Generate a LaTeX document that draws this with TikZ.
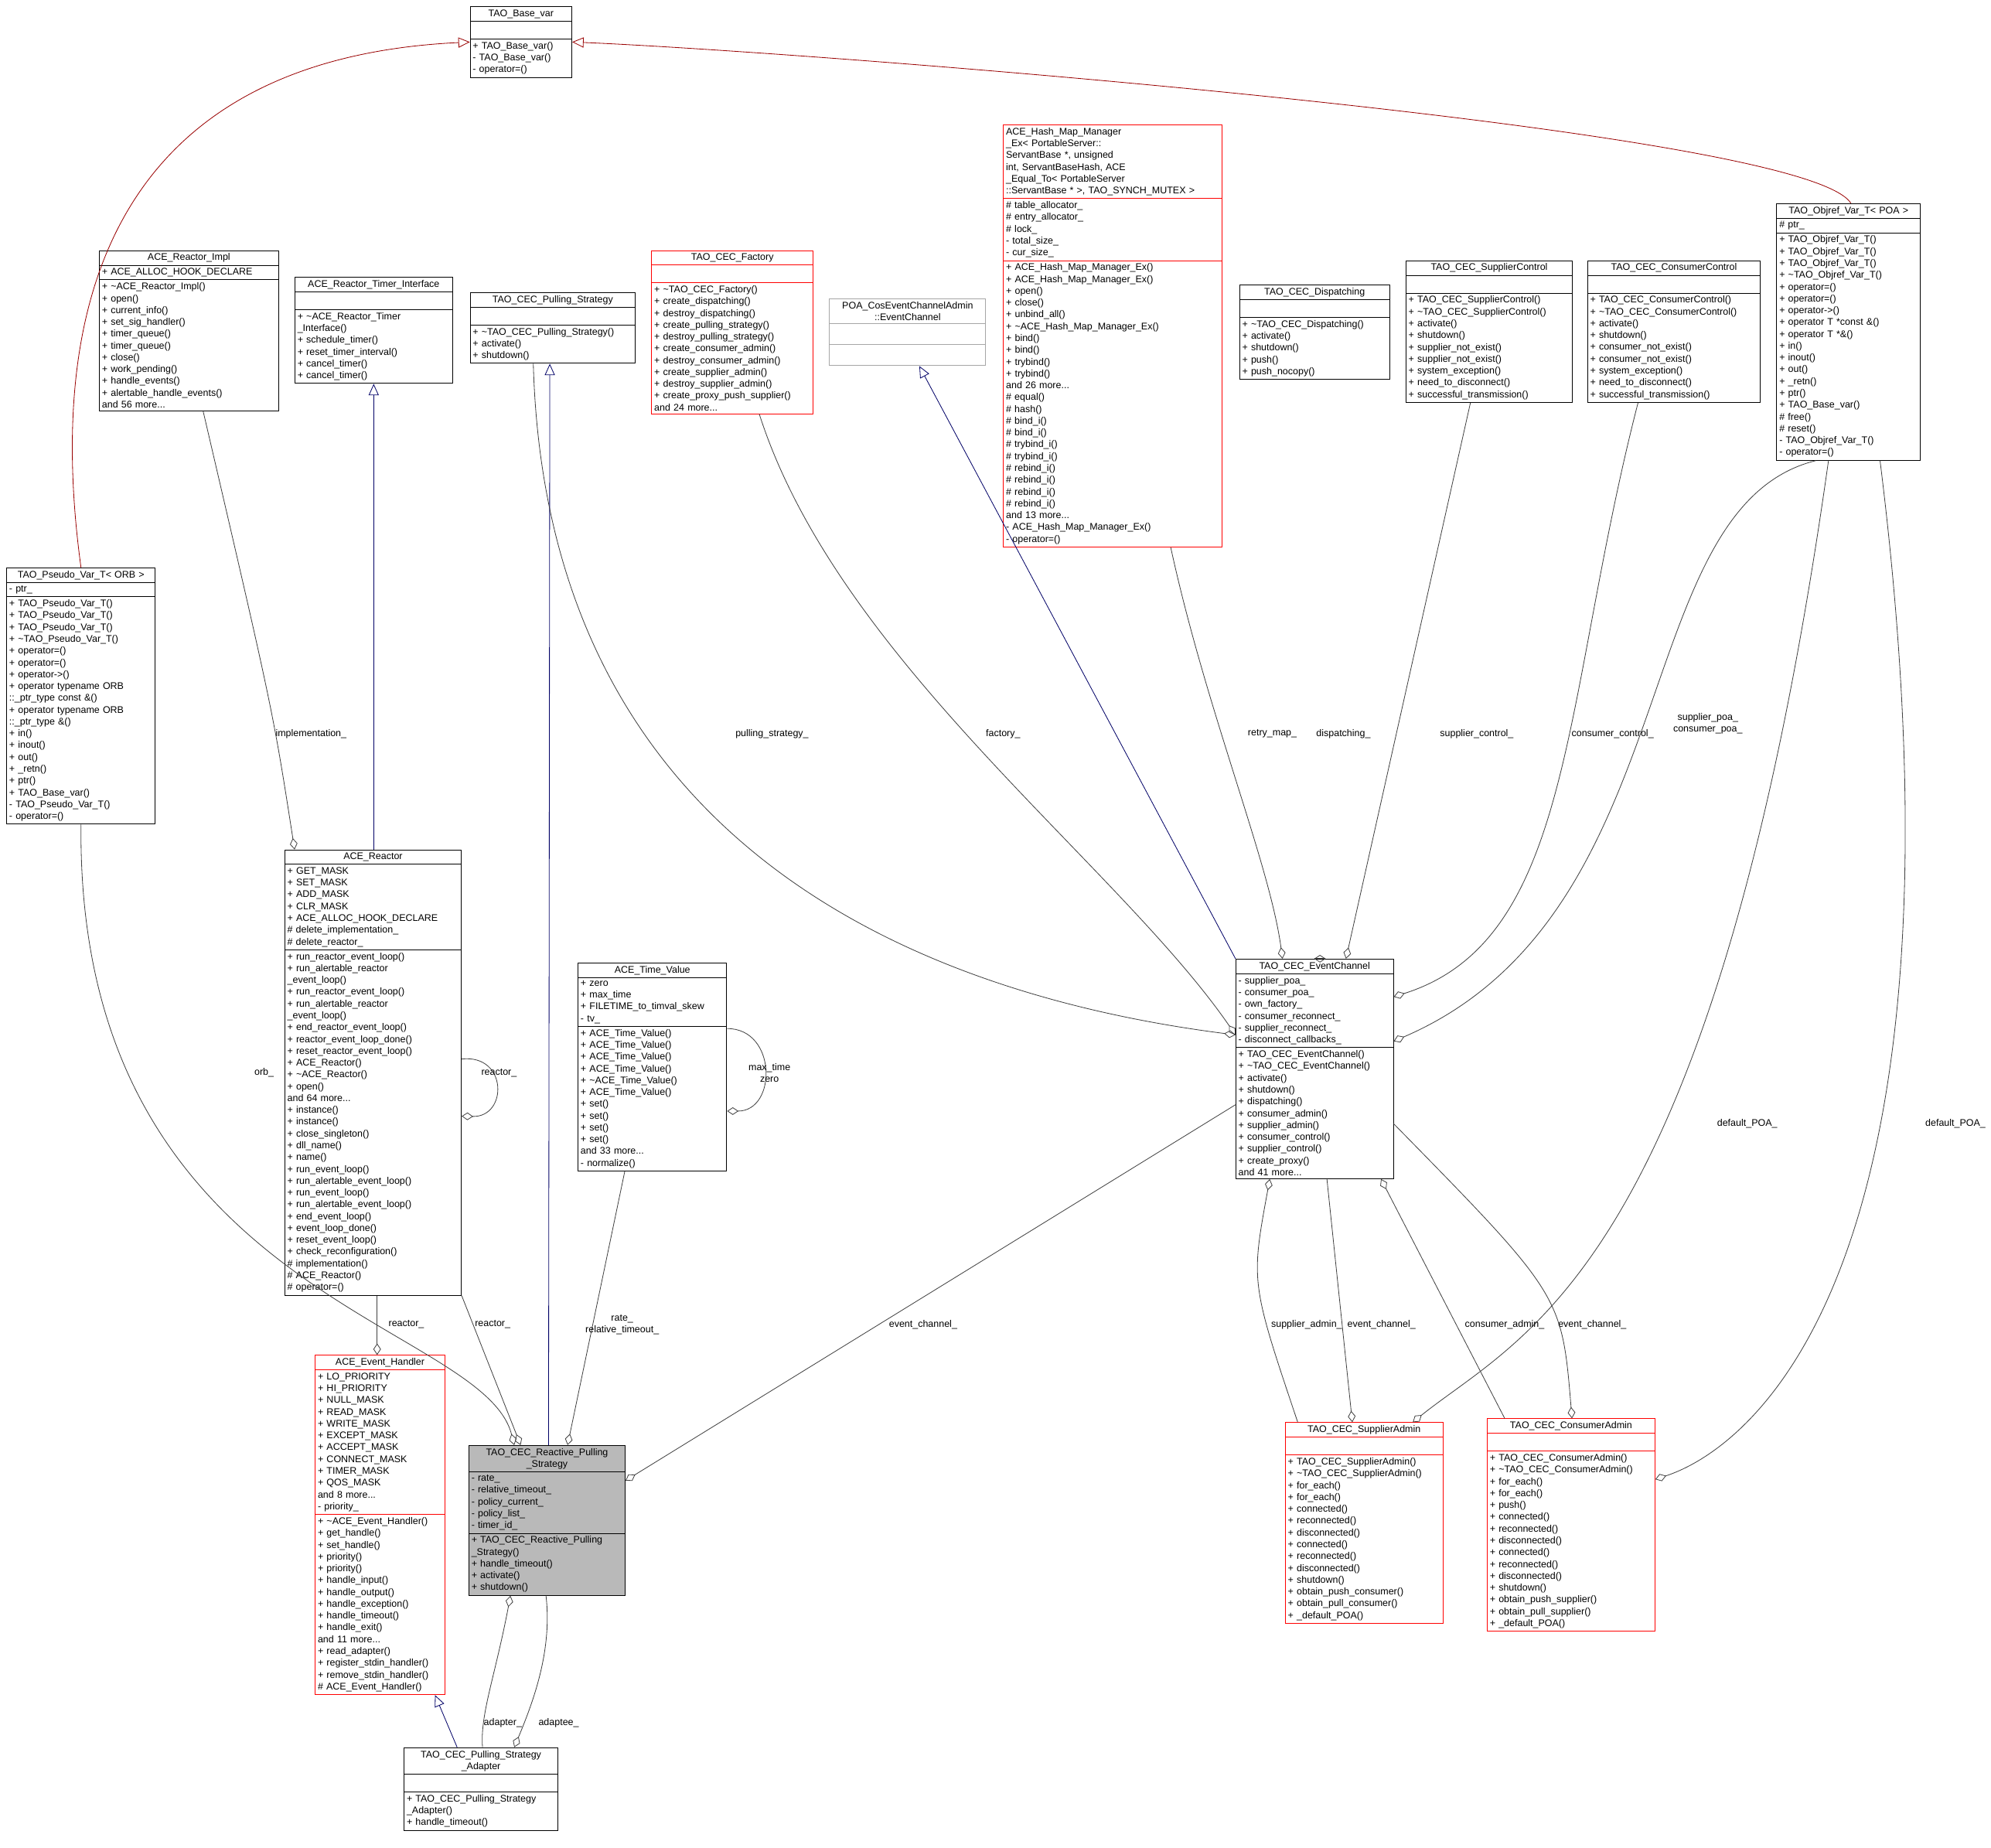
\documentclass[tikz,border=0pt]{standalone}
\usepackage{fontspec}
\setmainfont{Liberation Sans}
\usetikzlibrary{shapes.multipart, arrows.meta, positioning, calc}
\newcommand{\tl}{\textasciitilde}
\newcommand{\ttl}[1]{{\centering #1\par}}
\begin{document}
\catcode`\_=12
\begin{tikzpicture}[
  x=1pt, y=-1pt,
  font=\fontsize{7.6}{9.3}\selectfont,
  classbox/.style={rectangle split, rectangle split parts=3, draw=black, fill=white,
    anchor=north west, align=left, inner xsep=2pt, inner ysep=2pt, line width=0.6pt},
  redbox/.style={classbox, draw=red},
  greybox/.style={classbox, draw=gray!70},
  agg/.style={draw=black!75, line width=0.5pt, {Diamond[open,length=9pt,width=6pt]}-},
  inh/.style={draw=blue!40!black, line width=0.5pt, -{Triangle[open,length=9pt,width=8pt]}},
  inhred/.style={draw=red!60!black, line width=0.5pt, -{Triangle[open,length=9pt,width=8pt]}},
  lbl/.style={font=\fontsize{7.6}{9}\selectfont, align=center, inner sep=1pt}
]
\useasboundingbox (0,0) rectangle (1568,1455);

% Classes
\node[classbox, text width=76pt] (basevar) at (370,5) {\ttl{TAO_Base_var}
  \nodepart{two}\strut
  \nodepart{three}+ TAO_Base_var()\\- TAO_Base_var()\\- operator=()};

\node[classbox, text width=137pt] (reactorimpl) at (78,197) {\ttl{ACE_Reactor_Impl}
  \nodepart{two}+ ACE_ALLOC_HOOK_DECLARE
  \nodepart{three}+ \tl ACE_Reactor_Impl()\\+ open()\\+ current_info()\\+ set_sig_handler()\\+ timer_queue()\\+ timer_queue()\\+ close()\\+ work_pending()\\+ handle_events()\\+ alertable_handle_events()\\and 56 more...};

\node[classbox, text width=120pt] (timerif) at (232,218) {\ttl{ACE_Reactor_Timer_Interface}
  \nodepart{two}\strut
  \nodepart{three}+ \tl ACE_Reactor_Timer\\\_Interface()\\+ schedule_timer()\\+ reset_timer_interval()\\+ cancel_timer()\\+ cancel_timer()};

\node[classbox, text width=126pt] (pullstrat) at (370,230) {\ttl{TAO_CEC_Pulling_Strategy}
  \nodepart{two}\strut
  \nodepart{three}+ \tl TAO_CEC_Pulling_Strategy()\\+ activate()\\+ shutdown()};

\node[redbox, text width=123pt] (factory) at (513,197) {\ttl{TAO_CEC_Factory}
  \nodepart{two}\strut
  \nodepart{three}+ \tl TAO_CEC_Factory()\\+ create_dispatching()\\+ destroy_dispatching()\\+ create_pulling_strategy()\\+ destroy_pulling_strategy()\\+ create_consumer_admin()\\+ destroy_consumer_admin()\\+ create_supplier_admin()\\+ destroy_supplier_admin()\\+ create_proxy_push_supplier()\\and 24 more...};

\node[greybox, text width=119pt] (poaec) at (653,235) {\ttl{POA_CosEventChannelAdmin\\::EventChannel}
  \nodepart{two}\rule{0pt}{12pt}
  \nodepart{three}\rule{0pt}{12pt}};

\node[redbox, text width=168pt] (hashmap) at (790,98) {ACE_Hash_Map_Manager\\\_Ex< PortableServer::\\ServantBase *, unsigned\\ int, ServantBaseHash, ACE\\\_Equal_To< PortableServer\\::ServantBase * >, TAO_SYNCH_MUTEX >
  \nodepart{two}\# table_allocator_\\\# entry_allocator_\\\# lock_\\- total_size_\\- cur_size_
  \nodepart{three}+ ACE_Hash_Map_Manager_Ex()\\+ ACE_Hash_Map_Manager_Ex()\\+ open()\\+ close()\\+ unbind_all()\\+ \tl ACE_Hash_Map_Manager_Ex()\\+ bind()\\+ bind()\\+ trybind()\\+ trybind()\\and 26 more...\\\# equal()\\\# hash()\\\# bind_i()\\\# bind_i()\\\# trybind_i()\\\# trybind_i()\\\# rebind_i()\\\# rebind_i()\\\# rebind_i()\\\# rebind_i()\\and 13 more...\\- ACE_Hash_Map_Manager_Ex()\\- operator=()};

\node[classbox, text width=114pt] (dispatching) at (976,224) {\ttl{TAO_CEC_Dispatching}
  \nodepart{two}\strut
  \nodepart{three}+ \tl TAO_CEC_Dispatching()\\+ activate()\\+ shutdown()\\+ push()\\+ push_nocopy()};

\node[classbox, text width=127pt] (supctrl) at (1107,205) {\ttl{TAO_CEC_SupplierControl}
  \nodepart{two}\strut
  \nodepart{three}+ TAO_CEC_SupplierControl()\\+ \tl TAO_CEC_SupplierControl()\\+ activate()\\+ shutdown()\\+ supplier_not_exist()\\+ supplier_not_exist()\\+ system_exception()\\+ need_to_disconnect()\\+ successful_transmission()};

\node[classbox, text width=132pt] (conctrl) at (1250,205) {\ttl{TAO_CEC_ConsumerControl}
  \nodepart{two}\strut
  \nodepart{three}+ TAO_CEC_ConsumerControl()\\+ \tl TAO_CEC_ConsumerControl()\\+ activate()\\+ shutdown()\\+ consumer_not_exist()\\+ consumer_not_exist()\\+ system_exception()\\+ need_to_disconnect()\\+ successful_transmission()};

\node[classbox, text width=109pt] (objref) at (1399,160) {\ttl{TAO_Objref_Var_T< POA >}
  \nodepart{two}\# ptr_
  \nodepart{three}+ TAO_Objref_Var_T()\\+ TAO_Objref_Var_T()\\+ TAO_Objref_Var_T()\\+ \tl TAO_Objref_Var_T()\\+ operator=()\\+ operator=()\\+ operator->()\\+ operator T *const \&()\\+ operator T *\&()\\+ in()\\+ inout()\\+ out()\\+ _retn()\\+ ptr()\\+ TAO_Base_var()\\\# free()\\\# reset()\\- TAO_Objref_Var_T()\\- operator=()};

\node[classbox, text width=113pt] (pseudo) at (5,447) {\ttl{TAO_Pseudo_Var_T< ORB >}
  \nodepart{two}- ptr_
  \nodepart{three}+ TAO_Pseudo_Var_T()\\+ TAO_Pseudo_Var_T()\\+ TAO_Pseudo_Var_T()\\+ \tl TAO_Pseudo_Var_T()\\+ operator=()\\+ operator=()\\+ operator->()\\+ operator typename ORB\\::_ptr_type const \&()\\+ operator typename ORB\\::_ptr_type \&()\\+ in()\\+ inout()\\+ out()\\+ _retn()\\+ ptr()\\+ TAO_Base_var()\\- TAO_Pseudo_Var_T()\\- operator=()};

\node[classbox, text width=135pt] (reactor) at (224,669) {\ttl{ACE_Reactor}
  \nodepart{two}+ GET_MASK\\+ SET_MASK\\+ ADD_MASK\\+ CLR_MASK\\+ ACE_ALLOC_HOOK_DECLARE\\\# delete_implementation_\\\# delete_reactor_
  \nodepart{three}+ run_reactor_event_loop()\\+ run_alertable_reactor\\\_event_loop()\\+ run_reactor_event_loop()\\+ run_alertable_reactor\\\_event_loop()\\+ end_reactor_event_loop()\\+ reactor_event_loop_done()\\+ reset_reactor_event_loop()\\+ ACE_Reactor()\\+ \tl ACE_Reactor()\\+ open()\\and 64 more...\\+ instance()\\+ instance()\\+ close_singleton()\\+ dll_name()\\+ name()\\+ run_event_loop()\\+ run_alertable_event_loop()\\+ run_event_loop()\\+ run_alertable_event_loop()\\+ end_event_loop()\\+ event_loop_done()\\+ reset_event_loop()\\+ check_reconfiguration()\\\# implementation()\\\# ACE_Reactor()\\\# operator=()};

\node[classbox, text width=113pt] (timeval) at (455,758) {\ttl{ACE_Time_Value}
  \nodepart{two}+ zero\\+ max_time\\+ FILETIME_to_timval_skew\\- tv_
  \nodepart{three}+ ACE_Time_Value()\\+ ACE_Time_Value()\\+ ACE_Time_Value()\\+ ACE_Time_Value()\\+ \tl ACE_Time_Value()\\+ ACE_Time_Value()\\+ set()\\+ set()\\+ set()\\+ set()\\and 33 more...\\- normalize()};

\node[classbox, text width=120pt] (eventchannel) at (973,755) {\ttl{TAO_CEC_EventChannel}
  \nodepart{two}- supplier_poa_\\- consumer_poa_\\- own_factory_\\- consumer_reconnect_\\- supplier_reconnect_\\- disconnect_callbacks_
  \nodepart{three}+ TAO_CEC_EventChannel()\\+ \tl TAO_CEC_EventChannel()\\+ activate()\\+ shutdown()\\+ dispatching()\\+ consumer_admin()\\+ supplier_admin()\\+ consumer_control()\\+ supplier_control()\\+ create_proxy()\\and 41 more...};

\node[redbox, text width=98pt] (eventhandler) at (248,1067) {\ttl{ACE_Event_Handler}
  \nodepart{two}+ LO_PRIORITY\\+ HI_PRIORITY\\+ NULL_MASK\\+ READ_MASK\\+ WRITE_MASK\\+ EXCEPT_MASK\\+ ACCEPT_MASK\\+ CONNECT_MASK\\+ TIMER_MASK\\+ QOS_MASK\\and 8 more...\\- priority_
  \nodepart{three}+ \tl ACE_Event_Handler()\\+ get_handle()\\+ set_handle()\\+ priority()\\+ priority()\\+ handle_input()\\+ handle_output()\\+ handle_exception()\\+ handle_timeout()\\+ handle_exit()\\and 11 more...\\+ read_adapter()\\+ register_stdin_handler()\\+ remove_stdin_handler()\\\# ACE_Event_Handler()};

\node[classbox, fill=gray!55, text width=119pt] (reactive) at (369,1138) {\ttl{TAO_CEC_Reactive_Pulling\\\_Strategy}
  \nodepart{two}- rate_\\- relative_timeout_\\- policy_current_\\- policy_list_\\- timer_id_
  \nodepart{three}+ TAO_CEC_Reactive_Pulling\\\_Strategy()\\+ handle_timeout()\\+ activate()\\+ shutdown()};

\node[classbox, text width=117pt] (adapter) at (318,1376) {\ttl{TAO_CEC_Pulling_Strategy\\\_Adapter}
  \nodepart{two}\strut
  \nodepart{three}+ TAO_CEC_Pulling_Strategy\\\_Adapter()\\+ handle_timeout()};

\node[redbox, text width=120pt] (supadmin) at (1012,1120) {\ttl{TAO_CEC_SupplierAdmin}
  \nodepart{two}\strut
  \nodepart{three}+ TAO_CEC_SupplierAdmin()\\+ \tl TAO_CEC_SupplierAdmin()\\+ for_each()\\+ for_each()\\+ connected()\\+ reconnected()\\+ disconnected()\\+ connected()\\+ reconnected()\\+ disconnected()\\+ shutdown()\\+ obtain_push_consumer()\\+ obtain_pull_consumer()\\+ _default_POA()};

\node[redbox, text width=128pt] (conadmin) at (1171,1117) {\ttl{TAO_CEC_ConsumerAdmin}
  \nodepart{two}\strut
  \nodepart{three}+ TAO_CEC_ConsumerAdmin()\\+ \tl TAO_CEC_ConsumerAdmin()\\+ for_each()\\+ for_each()\\+ push()\\+ connected()\\+ reconnected()\\+ disconnected()\\+ connected()\\+ reconnected()\\+ disconnected()\\+ shutdown()\\+ obtain_push_supplier()\\+ obtain_pull_supplier()\\+ _default_POA()};

% Inheritance
\draw[inhred] (pseudo.north) .. controls (30,200) and (120,45) .. (basevar.west);
\draw[inhred] ([xshift=-55]objref.north east) .. controls (1420,100) and (620,40) .. (basevar.east);
\draw[inh] ([xshift=63]reactive.north west) -- ([xshift=63]pullstrat.south west);
\draw[inh] (eventchannel.north west) -- ([xshift=71]poaec.south west);
\draw[inh] ([xshift=42]adapter.north west) -- ([xshift=-8]eventhandler.south east);
\draw[inh] (reactor.north -| timerif.south) -- (timerif.south);

% Aggregations
\draw[agg] ([xshift=8]reactor.north west) .. controls (215,560) .. ([xshift=82]reactorimpl.south west);
\draw[agg] ([yshift=-210]reactor.north east) .. controls (400,880) and (400,830) .. ([yshift=-165]reactor.north east);
\draw[agg] ([xshift=36]reactive.north west) .. controls (380,1040) and (60,1020) .. (pseudo.south);
\draw[agg] ([xshift=41]reactive.north west) -- (reactor.south east);
\draw[agg] ([xshift=49]eventhandler.north west) -- ([xshift=73]reactor.south west);
\draw[agg] ([xshift=78]reactive.north west) -- ([xshift=37]timeval.south west);
\draw[agg] ([yshift=-117]timeval.north east) .. controls (612,875) and (612,810) .. ([yshift=-52]timeval.north east);
\draw[agg] ([yshift=-28]reactive.north east) -- ([yshift=-115]eventchannel.north west);
\draw[agg] ([xshift=33]reactive.south west) .. controls (390,1320) and (378,1350) .. ([xshift=62]adapter.north west);
\draw[agg] ([xshift=87]adapter.north west) .. controls (420,1340) and (435,1300) .. ([xshift=61]reactive.south west);
\draw[agg] ([yshift=-60]eventchannel.north west) .. controls (700,780) and (430,650) .. ([xshift=50]pullstrat.south west);
\draw[agg] ([yshift=-60]eventchannel.north west) .. controls (880,680) and (660,520) .. ([xshift=85]factory.south west);
\draw[agg] ([xshift=37]eventchannel.north west) .. controls (1000,680) and (950,560) .. ([xshift=132]hashmap.south west);
\draw[agg] ([xshift=62]eventchannel.north west) -- (eventchannel.north west -| dispatching.south);
\draw[agg] ([xshift=87]eventchannel.north west) -- ([xshift=51]supctrl.south west);
\draw[agg] ([yshift=-30]eventchannel.north east) .. controls (1240,740) and (1230,550) .. ([xshift=40]conctrl.south west);
\draw[agg] ([yshift=-65]eventchannel.north east) .. controls (1330,720) and (1280,400) .. ([xshift=31]objref.south west);
\draw[agg] ([xshift=27]eventchannel.south west) .. controls (985,1010) .. ([xshift=10]supadmin.north west);
\draw[agg] ([xshift=53]supadmin.north west) -- ([xshift=72]eventchannel.south west);
\draw[agg] ([xshift=-10]eventchannel.south east) -- ([xshift=14]conadmin.north west);
\draw[agg] ([xshift=67]conadmin.north west) .. controls (1230,1020) .. ([yshift=-130]eventchannel.north east);
\draw[agg] ([xshift=-24]supadmin.north east) .. controls (1200,1050) and (1350,1000) .. ([xshift=41]objref.south west);
\draw[agg] ([yshift=-48]conadmin.north east) .. controls (1380,1140) and (1560,1000) .. ([xshift=-32]objref.south east);

% Labels
\node[lbl] at (245,578) {implementation_};
\node[lbl] at (393,845) {reactor_};
\node[lbl] at (208,845) {orb_};
\node[lbl] at (388,1043) {reactor_};
\node[lbl] at (320,1043) {reactor_};
\node[lbl] at (490,1043) {rate_\\relative_timeout_};
\node[lbl] at (606,845) {max_time\\zero};
\node[lbl] at (727,1043) {event_channel_};
\node[lbl] at (396,1357) {adapter_};
\node[lbl] at (440,1357) {adaptee_};
\node[lbl] at (608,578) {pulling_strategy_};
\node[lbl] at (790,578) {factory_};
\node[lbl] at (1002,578) {retry_map_};
\node[lbl] at (1058,578) {dispatching_};
\node[lbl] at (1163,578) {supplier_control_};
\node[lbl] at (1270,578) {consumer_control_};
\node[lbl] at (1345,570) {supplier_poa_\\consumer_poa_};
\node[lbl] at (1029,1043) {supplier_admin_};
\node[lbl] at (1088,1043) {event_channel_};
\node[lbl] at (1185,1043) {consumer_admin_};
\node[lbl] at (1254,1043) {event_channel_};
\node[lbl] at (1376,885) {default_POA_};
\node[lbl] at (1540,885) {default_POA_};
\end{tikzpicture}
\end{document}
